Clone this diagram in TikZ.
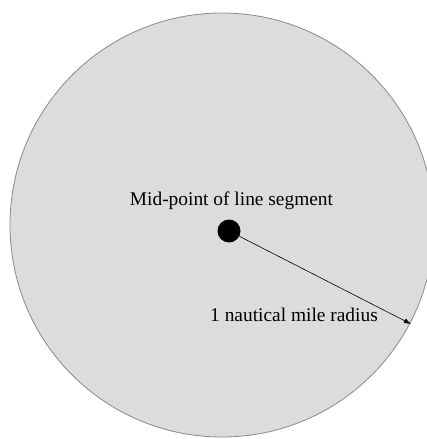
\documentclass[tikz,border=0pt]{standalone}
\usepackage{fontspec}
\setmainfont{Liberation Serif}
\usetikzlibrary{arrows.meta}
\definecolor{discfill}{HTML}{DCDCDC}
\definecolor{discedge}{HTML}{8A8A8A}
\begin{document}
\begin{tikzpicture}[x=1pt,y=-1pt,
  disc/.style={circle,fill=discfill,draw=discedge,line width=0.8pt,minimum size=424pt,inner sep=0pt},
  dot/.style={circle,fill=black,minimum size=23pt,inner sep=0pt},
  lbl/.style={font=\fontsize{19.4}{22}\selectfont,inner sep=0pt,anchor=base},
  radius line/.style={-{Latex[length=7pt,width=5pt]},line width=0.6pt}]
\useasboundingbox (0,0) rectangle (427,439);
\begin{scope}
\clip (0,0) rectangle (427,439);
\node[disc] (area) at (222,225) {};
\end{scope}
\node[dot] (mid) at (229,231) {};
\node[lbl] (midlbl) at (231.5,205) {Mid-point of line segment};
\coordinate (edge) at (411,324);
\node[lbl] (radlbl) at (294,321) {1 nautical mile radius};
\draw[radius line] (mid) -- (edge);
\end{tikzpicture}
\end{document}
